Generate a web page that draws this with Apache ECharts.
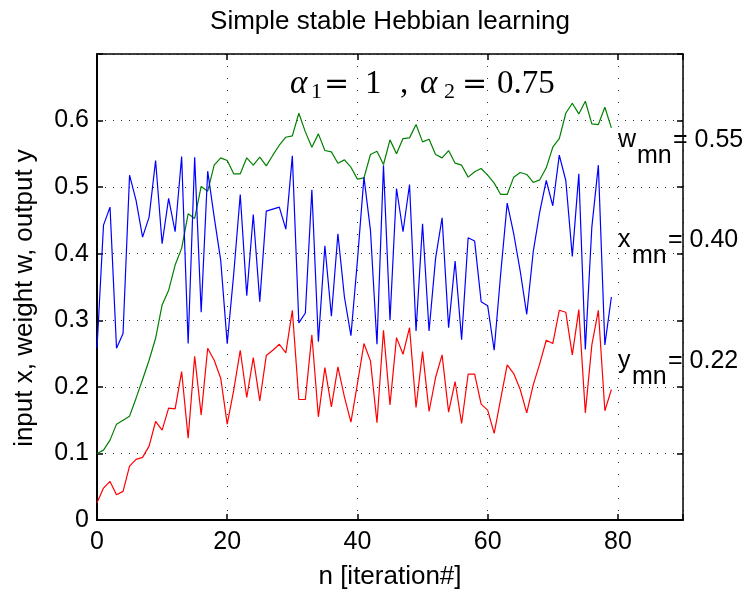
<!DOCTYPE html>
<html>
<head>
<meta charset="utf-8">
<script src="https://cdn.jsdelivr.net/npm/echarts@6/dist/echarts.min.js"></script>
<style>
html,body{margin:0;padding:0;background:#fff;}
#chart{width:751px;height:589px;}
</style>
</head>
<body>
<div id="chart"></div>
<script>
// ---- data ----
const titleText = 'Simple stable Hebbian learning';
const xAxisName = 'n [iteration#]';
const yAxisName = 'input x, weight w, output y';
const xTicks = [0, 20, 40, 60, 80];
const yTicks = [0, 0.1, 0.2, 0.3, 0.4, 0.5, 0.6];

const weightW = [0.100,0.105,0.120,0.144,0.150,0.156,0.183,0.211,0.240,0.273,
  0.323,0.345,0.383,0.408,0.460,0.453,0.501,0.494,0.533,0.544,
  0.540,0.520,0.520,0.544,0.533,0.545,0.532,0.548,0.563,0.575,
  0.577,0.611,0.583,0.560,0.580,0.555,0.553,0.536,0.541,0.530,
  0.512,0.514,0.549,0.554,0.534,0.571,0.550,0.573,0.574,0.594,
  0.568,0.572,0.549,0.544,0.555,0.536,0.533,0.515,0.523,0.528,
  0.518,0.506,0.489,0.489,0.515,0.522,0.519,0.507,0.511,0.529,
  0.560,0.573,0.611,0.626,0.610,0.629,0.595,0.594,0.620,0.589];

const inputX = [0.258,0.443,0.470,0.258,0.280,0.518,0.480,0.425,0.455,0.540,
  0.415,0.483,0.433,0.546,0.265,0.545,0.312,0.524,0.455,0.390,
  0.265,0.370,0.489,0.337,0.459,0.328,0.464,0.467,0.470,0.437,
  0.547,0.296,0.311,0.496,0.268,0.412,0.306,0.430,0.335,0.277,
  0.390,0.515,0.435,0.264,0.533,0.300,0.498,0.433,0.504,0.284,
  0.445,0.284,0.393,0.454,0.289,0.389,0.271,0.424,0.419,0.328,
  0.322,0.255,0.370,0.476,0.430,0.374,0.309,0.403,0.463,0.510,
  0.472,0.548,0.510,0.396,0.520,0.256,0.440,0.533,0.263,0.335];

const outputY = [0.026,0.048,0.058,0.038,0.043,0.081,0.091,0.094,0.111,0.148,
  0.135,0.168,0.167,0.223,0.123,0.246,0.158,0.258,0.240,0.213,
  0.144,0.195,0.255,0.184,0.244,0.179,0.247,0.255,0.264,0.251,
  0.315,0.181,0.181,0.278,0.155,0.229,0.170,0.230,0.185,0.147,
  0.205,0.265,0.239,0.146,0.285,0.173,0.274,0.249,0.289,0.169,
  0.253,0.163,0.214,0.248,0.162,0.208,0.145,0.219,0.219,0.174,
  0.165,0.130,0.182,0.233,0.220,0.196,0.161,0.203,0.235,0.270,
  0.265,0.315,0.312,0.248,0.316,0.161,0.263,0.315,0.164,0.196];

const finalSymbols = ['w', 'x', 'y'];
const finalValues = ['0.55', '0.40', '0.22'];

// ---- chart ----
const SANS = '"Liberation Sans", Arial, Helvetica, sans-serif';
const SERIF = '"Liberation Serif", "DejaVu Serif", serif';
const FS = 25;
const FS2 = 26;
const toPairs = arr => arr.map((v, i) => [i, v]);

const chart = echarts.init(document.getElementById('chart'), null, {renderer: 'canvas'});

const gridLine = (dash) => ({show: true, lineStyle: {color: '#333', width: 1, type: dash}});

const option = {
  animation: false,
  backgroundColor: '#fff',
  grid: {left: 97, right: 68, top: 54, bottom: 69, containLabel: false},
  xAxis: [{
    type: 'value', min: 0, max: 90, interval: 20, position: 'bottom',
    axisLine: {show: true, onZero: false, lineStyle: {color: '#000', width: 2}},
    axisTick: {show: true, inside: true, length: 6, lineStyle: {color: '#000', width: 1.5}},
    axisLabel: {color: '#000', fontSize: FS, fontFamily: SANS, margin: 10,
      formatter: v => xTicks.indexOf(v) >= 0 ? String(v) : ''},
    splitLine: gridLine([1, 11])
  }, {
    type: 'value', min: 0, max: 90, interval: 20, position: 'top',
    axisLine: {show: true, onZero: false, lineStyle: {color: '#000', width: 1.5}},
    axisTick: {show: true, inside: true, length: 6, lineStyle: {color: '#000', width: 1.5}},
    axisLabel: {show: false}, splitLine: {show: false}
  }],
  yAxis: [{
    type: 'value', min: 0, max: 0.7, interval: 0.1, position: 'left',
    axisLine: {show: true, onZero: false, lineStyle: {color: '#000', width: 2}},
    axisTick: {show: true, inside: true, length: 6, lineStyle: {color: '#000', width: 1.5}},
    axisLabel: {color: '#000', fontSize: FS, fontFamily: SANS, margin: 8,
      formatter: v => {
        const r = Math.round(v * 10) / 10;
        return yTicks.indexOf(r) >= 0 ? String(r) : '';
      }},
    splitLine: gridLine([1, 7])
  }, {
    type: 'value', min: 0, max: 0.7, interval: 0.1, position: 'right',
    axisLine: {show: true, onZero: false, lineStyle: {color: '#000', width: 1.5}},
    axisTick: {show: true, inside: true, length: 6, lineStyle: {color: '#000', width: 1.5}},
    axisLabel: {show: false}, splitLine: {show: false}
  }],
  series: [
    {type: 'line', name: 'w', data: toPairs(weightW), showSymbol: false, symbol: 'none',
     lineStyle: {color: '#008000', width: 1.2}, z: 3},
    {type: 'line', name: 'x', data: toPairs(inputX), showSymbol: false, symbol: 'none',
     lineStyle: {color: '#0000ff', width: 1.2}, z: 3},
    {type: 'line', name: 'y', data: toPairs(outputY), showSymbol: false, symbol: 'none',
     lineStyle: {color: '#ff0000', width: 1.2}, z: 3}
  ]
};
chart.setOption(option);

// ---- text annotations ----
const gfx = [];
const txt = (x, y, text, font, extra) => Object.assign({
  type: 'text', x: x, y: y, z: 100,
  style: Object.assign({text: text, font: font, fill: '#000', textAlign: 'left', textVerticalAlign: 'middle'}, extra || {})
});
gfx.push(txt(390, 22, titleText, FS2 + 'px ' + SANS, {textAlign: 'center'}));
gfx.push(txt(390, 577, xAxisName, FS2 + 'px ' + SANS, {textAlign: 'center'}));
gfx.push(Object.assign(txt(0, 0, yAxisName, FS2 + 'px ' + SANS, {textAlign: 'center'}), {x: 25, y: 298, rotation: Math.PI / 2}));

// alpha annotation (LaTeX-like)
const AF = 'italic 33px ' + SERIF;
const NF = '33px ' + SERIF;
const EF = '30px "DejaVu Serif", serif';
const SF = '22px ' + SERIF;
const ay = 84;
gfx.push(txt(290, ay, 'α', AF));
gfx.push(txt(311, ay + 8, '1', SF));
gfx.push(txt(324, ay + 1, '=', EF));
gfx.push(txt(365, ay, '1', NF));
gfx.push(txt(400, ay, ',', NF));
gfx.push(txt(420, ay, 'α', AF));
gfx.push(txt(444, ay + 8, '2', SF));
gfx.push(txt(462, ay + 1, '=', EF));
gfx.push(txt(497, ay, '0.75', NF));

// final values on the right
const rightY = [140, 240, 361];
finalSymbols.forEach((s, i) => {
  const yc = rightY[i];
  const symW = s === 'w' ? 19 : 14;
  gfx.push(txt(618, yc, s, FS + 'px ' + SANS));
  gfx.push(txt(618 + symW, yc + 16, 'mn', FS + 'px ' + SANS));
  gfx.push(txt(618 + symW + 36, yc, '= ' + finalValues[i], FS + 'px ' + SANS));
});
chart.setOption({graphic: gfx});
</script>
</body>
</html>
